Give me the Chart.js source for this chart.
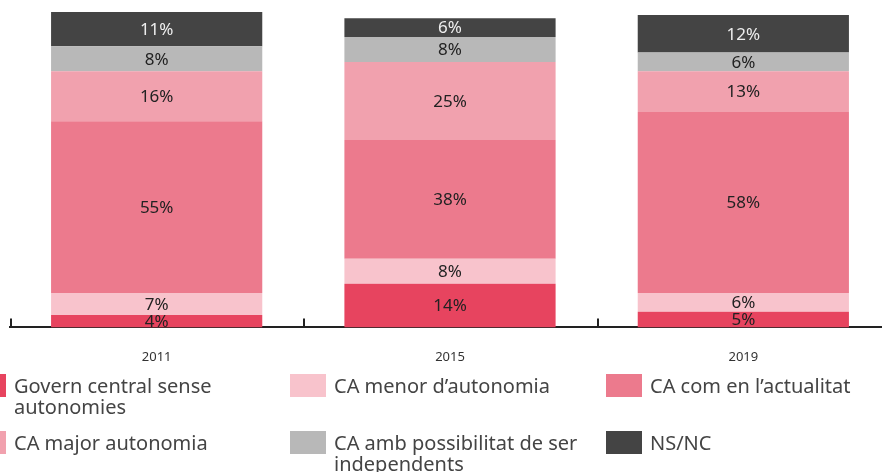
<!DOCTYPE html>
<html>
<head>
<meta charset="utf-8">
<script src="https://cdn.jsdelivr.net/npm/chart.js@4"></script>
<style>
  html, body { margin: 0; padding: 0; overflow: hidden; background: #fff; }
  #wrap { position: absolute; left: 0; top: 0; width: 890px; height: 387px; }
  #legend { position: absolute; left: 0; top: 0; width: 882px; height: 472px;
            font-family: "Noto Sans", sans-serif; font-size: 20px; color: #444; }
  .box { position: absolute; width: 36px; height: 23px; }
  .txt { position: absolute; line-height: 21px; }
</style>
</head>
<body>
<div id="wrap"><canvas id="chart"></canvas></div>
<div id="legend"></div>
<script>
const years = ['2011', '2015', '2019'];
const seriesNames = [
  'Govern central sense autonomies',
  'CA menor d\u2019autonomia',
  'CA com en l\u2019actualitat',
  'CA major autonomia',
  'CA amb possibilitat de ser independents',
  'NS/NC'
];
const governCentral = [4, 14, 5];
const caMenor = [7, 8, 6];
const caActual = [55, 38, 58];
const caMajor = [16, 25, 13];
const caIndependents = [8, 8, 6];
const nsnc = [11, 6, 12];

const colors = ['#e7445f', '#f8c3cc', '#ec7a8d', '#f1a1ae', '#b8b8b8', '#444444'];
const labelColors = ['#222', '#222', '#222', '#222', '#222', '#eeeeee'];
const values = [governCentral, caMenor, caActual, caMajor, caIndependents, nsnc];

// percentage text in the middle of each segment
const segmentLabels = {
  id: 'segmentLabels',
  afterDatasetsDraw(chart) {
    const ctx = chart.ctx;
    ctx.save();
    ctx.font = '17px "Noto Sans"';
    ctx.textAlign = 'center';
    ctx.textBaseline = 'middle';
    chart.data.datasets.forEach((ds, i) => {
      const meta = chart.getDatasetMeta(i);
      ctx.fillStyle = labelColors[i];
      meta.data.forEach((bar, j) => {
        const c = bar.getCenterPoint();
        ctx.fillText(ds.data[j] + '%', c.x, c.y + 1);
      });
    });
    ctx.restore();
  }
};

// short upward ticks between the categories
const boundaryTicks = {
  id: 'boundaryTicks',
  afterDraw(chart) {
    const x = chart.scales.x;
    const bottom = chart.chartArea.bottom;
    const ctx = chart.ctx;
    ctx.save();
    ctx.strokeStyle = '#222';
    ctx.lineWidth = 2;
    for (let i = 0; i < years.length; i++) {
      const px = Math.round(x.getPixelForValue(i - 0.5)) + 1;
      ctx.beginPath();
      ctx.moveTo(px, bottom - 9);
      ctx.lineTo(px, bottom);
      ctx.stroke();
    }
    ctx.restore();
  }
};

const chart = new Chart(document.getElementById('chart'), {
  type: 'bar',
  data: {
    labels: years,
    datasets: seriesNames.map((name, i) => ({
      label: name,
      data: values[i],
      backgroundColor: colors[i],
      borderWidth: 0,
      categoryPercentage: 1,
      barPercentage: 0.72
    }))
  },
  options: {
    responsive: true,
    maintainAspectRatio: false,
    animation: false,
    layout: { padding: { left: 10, top: 12, right: 0, bottom: 0 } },
    plugins: { legend: { display: false }, tooltip: { enabled: false } },
    scales: {
      x: {
        stacked: true,
        grid: { display: false, drawTicks: false },
        border: { display: true, color: '#222', width: 2 },
        ticks: { color: '#333', padding: 22, font: { family: 'Noto Sans', size: 13 } }
      },
      y: { stacked: true, display: false, min: 0, max: 101 }
    }
  },
  plugins: [segmentLabels, boundaryTicks]
});

// legend in three columns under the chart
const legend = document.getElementById('legend');
const colX = [-30, 290, 606];
const rowY = [374, 431];
const textWidth = [262, 270, 240];
seriesNames.forEach((name, i) => {
  const col = i % 3, row = Math.floor(i / 3);
  const box = document.createElement('div');
  box.className = 'box';
  box.style.left = colX[col] + 'px';
  box.style.top = rowY[row] + 'px';
  box.style.background = colors[i];
  legend.appendChild(box);
  const txt = document.createElement('div');
  txt.className = 'txt';
  txt.style.left = (colX[col] + 44) + 'px';
  txt.style.top = (rowY[row] + 1) + 'px';
  txt.style.width = textWidth[col] + 'px';
  txt.textContent = name;
  legend.appendChild(txt);
});
</script>
</body>
</html>
